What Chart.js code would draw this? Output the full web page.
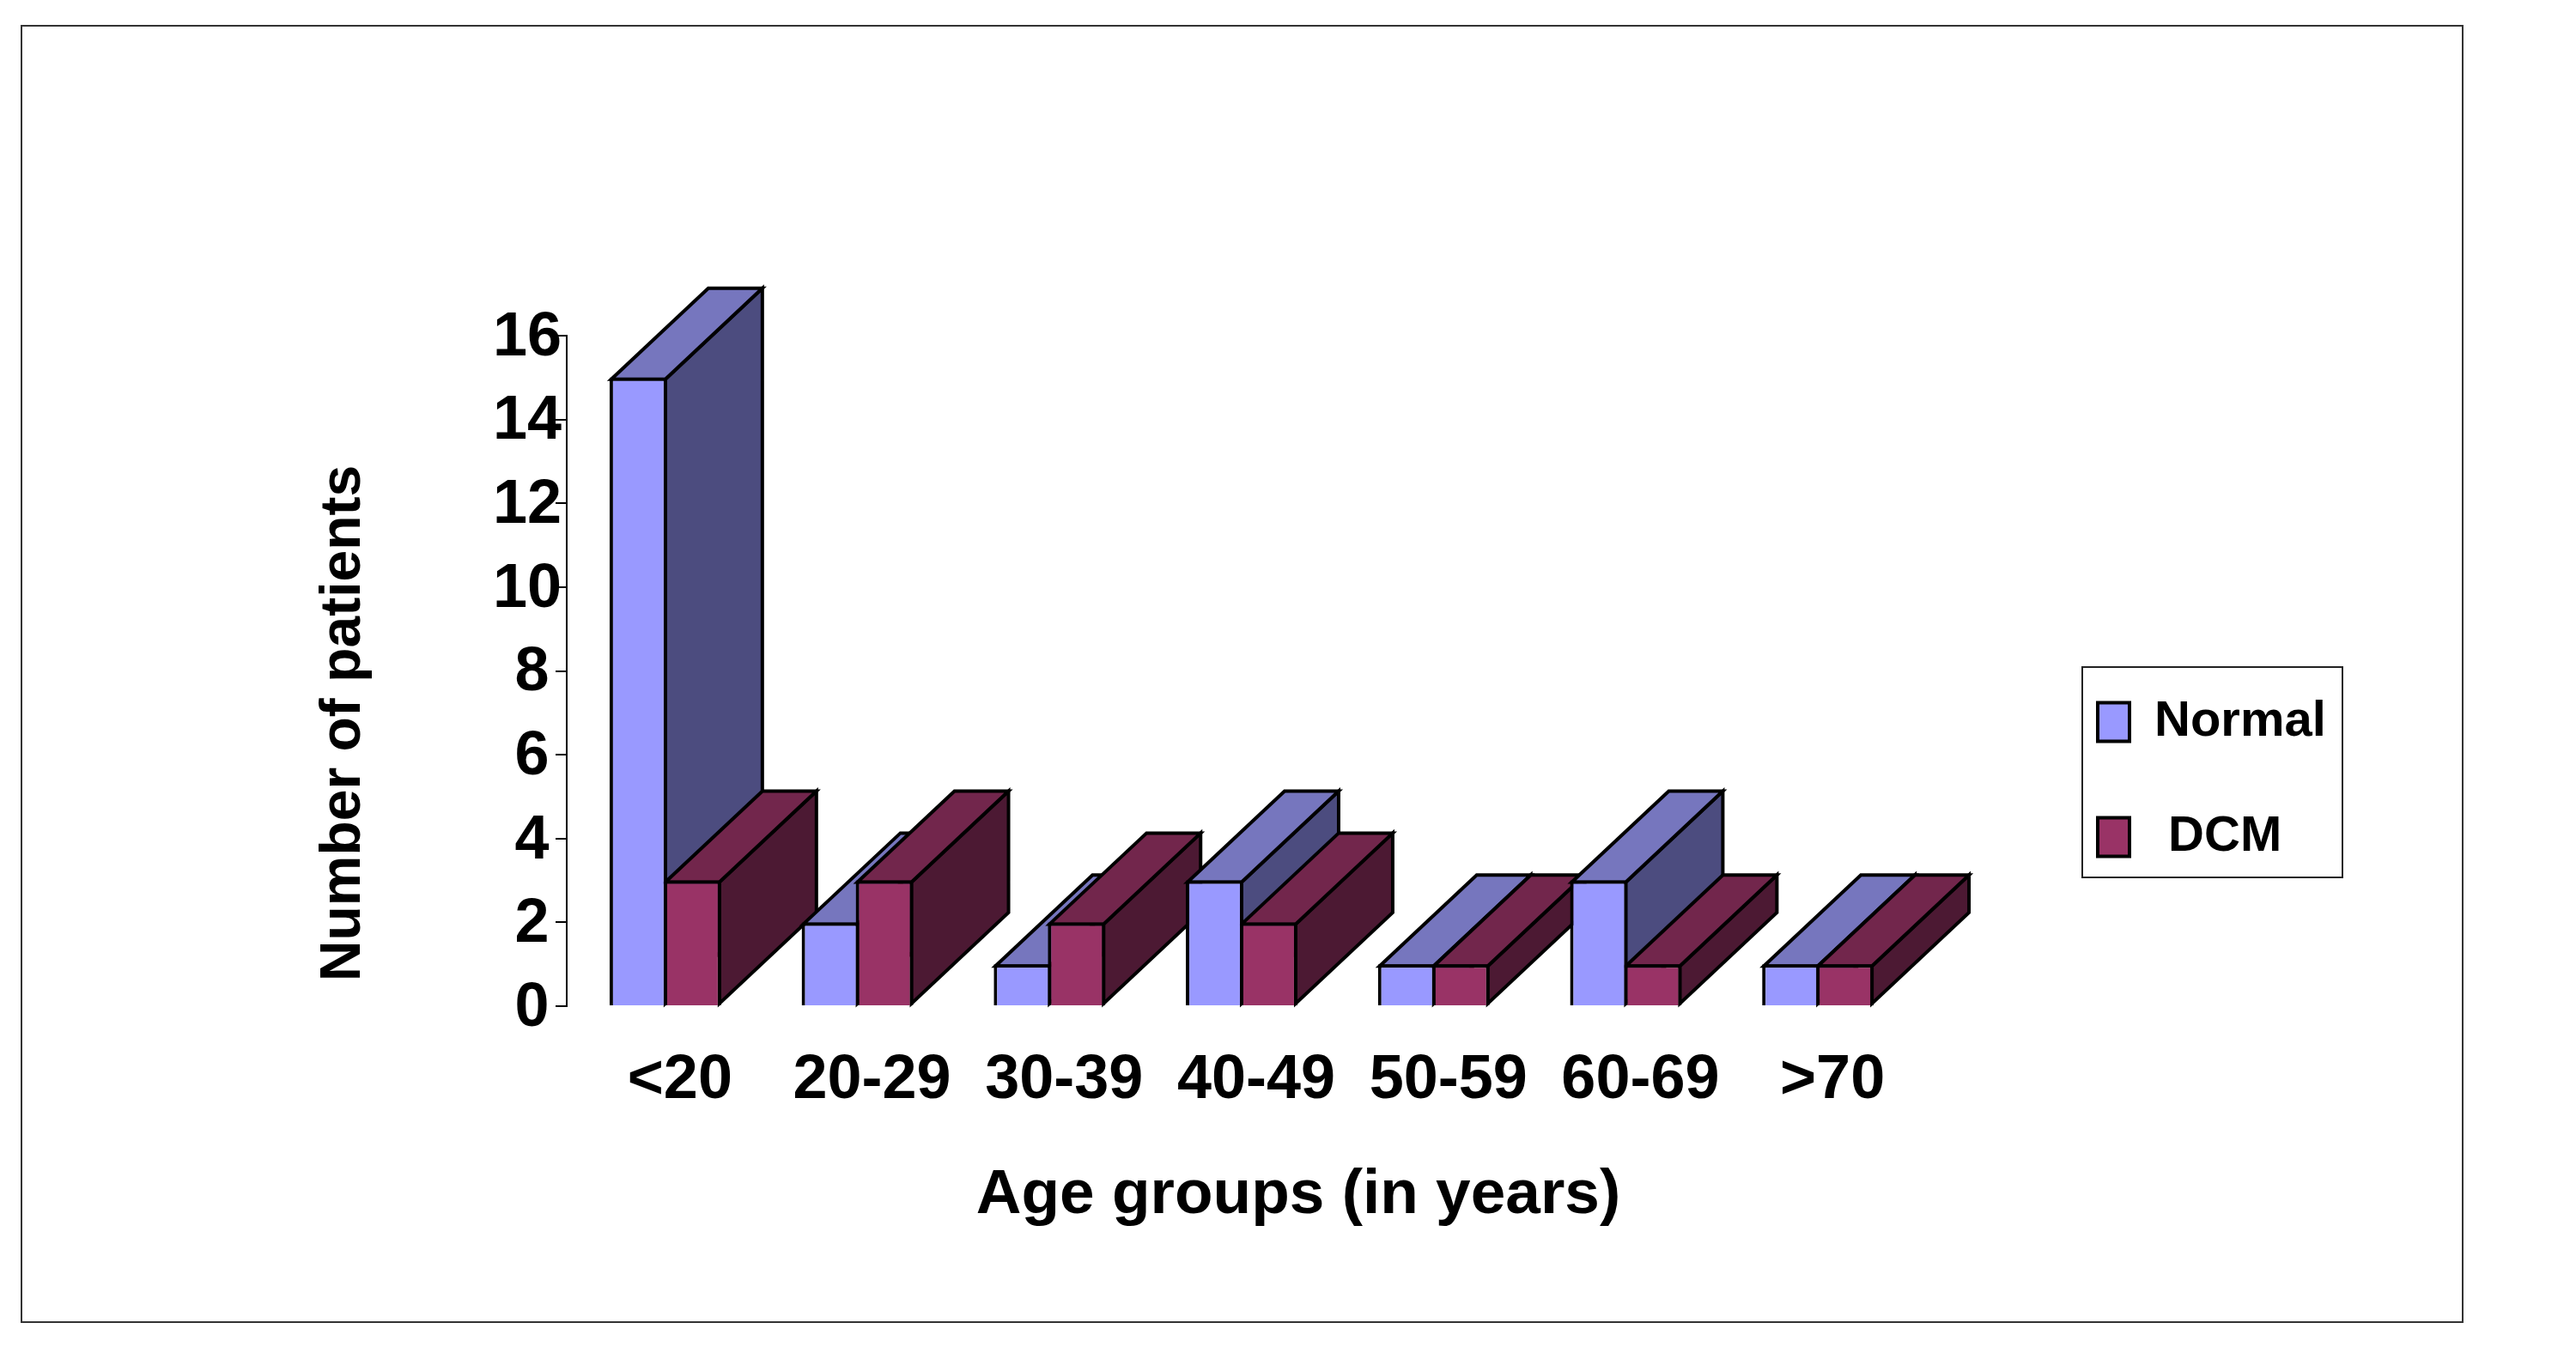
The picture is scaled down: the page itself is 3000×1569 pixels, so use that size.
<!DOCTYPE html>
<html>
<head>
<meta charset="utf-8">
<style>html,body{margin:0;padding:0;background:#fff}canvas{display:block}</style>
<script src="https://cdn.jsdelivr.net/npm/chart.js@4"></script>
</head>
<body>
<canvas id="c" width="3000" height="1569"></canvas>
<script>
const categories = ['<20','20-29','30-39','40-49','50-59','60-69','>70'];
const normalValues = [15,2,1,3,1,3,1];
const dcmValues = [3,3,2,2,1,1,1];
const seriesNames = ['Normal',' DCM'];
const yTicks = [0,2,4,6,8,10,12,14,16];
const xTitle = 'Age groups (in years)';
const yTitle = 'Number of patients';

const FONT = '"Liberation Sans", Arial, sans-serif';
const DEPTH_X = 113, DEPTH_Y = 106;
const faceColors = [
  {top:'#7676BE', side:'#4C4C7F'},
  {top:'#72264C', side:'#4C1933'}
];

function shift(scale, name, dx, dy){
  const key = '$shift_' + name;
  if (scale[key]) return;
  scale[key] = true;
  const orig = scale[name];
  scale[name] = function(){
    const ctx = this.ctx;
    ctx.save(); ctx.translate(dx, dy);
    orig.apply(this, arguments);
    ctx.restore();
  };
}

const depthPlugin = {
  id:'depth',
  beforeDatasetsDraw(chart){
    const ctx = chart.ctx;
    const metas = chart.getSortedVisibleDatasetMetas();
    ctx.save();
    ctx.strokeStyle = '#000';
    ctx.lineWidth = 4;
    ctx.lineJoin = 'miter';
    categories.forEach((_, i) => {
      metas.forEach((meta, d) => {
        const b = meta.data[i];
        const l = b.x - b.width/2 + 2, r = b.x + b.width/2 - 2, t = b.y + 2, base = b.base - 2;
        ctx.fillStyle = faceColors[d].side;
        ctx.beginPath();
        ctx.moveTo(r, t); ctx.lineTo(r+DEPTH_X, t-DEPTH_Y);
        ctx.lineTo(r+DEPTH_X, base-DEPTH_Y); ctx.lineTo(r, base);
        ctx.closePath(); ctx.fill(); ctx.stroke();
        ctx.fillStyle = faceColors[d].top;
        ctx.beginPath();
        ctx.moveTo(l, t); ctx.lineTo(l+DEPTH_X, t-DEPTH_Y);
        ctx.lineTo(r+DEPTH_X, t-DEPTH_Y); ctx.lineTo(r, t);
        ctx.closePath(); ctx.fill(); ctx.stroke();
      });
    });
    ctx.restore();
  }
};

const framePlugin = {
  id:'frame',
  afterLayout(chart){
    const lg = chart.legend;
    lg.left = 2367; lg.right = 2760; lg.top = 736; lg.bottom = 1100;
    lg.width = lg.right - lg.left; lg.height = lg.bottom - lg.top;
  },
  beforeDraw(chart){
    const ctx = chart.ctx;
    ctx.save();
    ctx.fillStyle = '#fff';
    ctx.fillRect(0,0,chart.width,chart.height);
    ctx.strokeStyle = '#333';
    ctx.lineWidth = 2;
    ctx.strokeRect(25,30,2843,1510);
    ctx.strokeStyle = '#222';
    ctx.strokeRect(2425,777,303,245);
    ctx.restore();
  }
};

new Chart(document.getElementById('c'), {
  type:'bar',
  data:{
    labels:categories,
    datasets:[
      {label:seriesNames[0], data:normalValues, backgroundColor:'#9999FF', borderColor:'#000', borderWidth:4},
      {label:seriesNames[1], data:dcmValues, backgroundColor:'#993366', borderColor:'#000', borderWidth:4}
    ]
  },
  options:{
    responsive:false,
    animation:false,
    devicePixelRatio:1,
    categoryPercentage:0.563,
    barPercentage:1.063,
    layout:{padding:{left:30,top:391,right:771,bottom:40}},
    plugins:{
      tooltip:{enabled:false},
      title:{display:false},
      legend:{
        display:true,
        position:'chartArea',
        align:'start',
        labels:{
          boxWidth:37, boxHeight:45, padding:76,
          color:'#000',
          font:{family:FONT, size:58, weight:'bold'}
        }
      }
    },
    scales:{
      x:{
        grid:{display:false},
        border:{display:false},
        ticks:{
          color:'#000', autoSkip:false, maxRotation:0, minRotation:0,
          padding:36, labelOffset:17,
          font:{family:FONT, size:72, weight:'bold'}
        },
        title:{
          display:true, text:xTitle, color:'#000',
          font:{family:FONT, size:73, weight:'bold'}
        },
        afterFit(s){ s.height = 1569-1172-40; shift(s,'drawTitle',66,-88); }
      },
      y:{
        min:0, max:16,
        afterBuildTicks(s){ s.ticks = yTicks.map(v => ({value:v})); },
        grid:{drawOnChartArea:false, drawTicks:true, tickLength:13, color:'#000', lineWidth:2},
        border:{display:true, color:'#000', width:2},
        ticks:{
          color:'#000', padding:-7, autoSkip:false,
          font:{family:FONT, size:72, weight:'bold'},
          callback:v => v < 10 ? v + '\u2009' : String(v)
        },
        title:{
          display:true, text:yTitle, color:'#000',
          font:{family:FONT, size:66, weight:'bold'}
        },
        afterFit(s){
          s.width = 663-30;
          shift(s,'drawTitle',327,61);
          shift(s,'drawBorder',-3,0);
          shift(s,'drawGrid',-3,0);
          shift(s,'drawLabels',-3,3);
        }
      }
    }
  },
  plugins:[framePlugin, depthPlugin]
});
</script>
</body>
</html>
